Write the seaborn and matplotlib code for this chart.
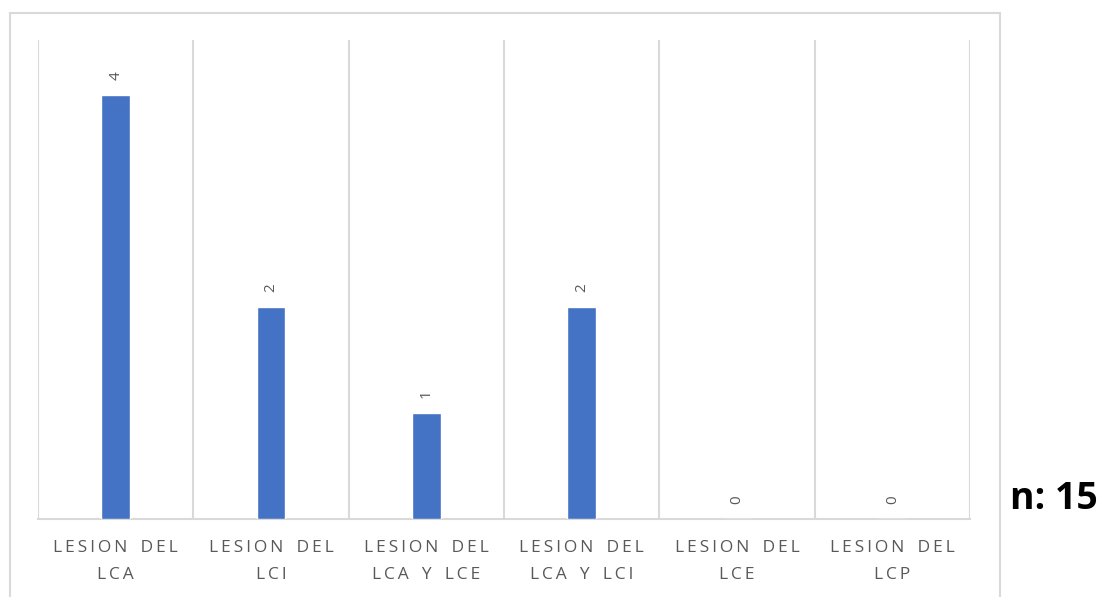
import matplotlib
matplotlib.use("Agg")
import matplotlib.pyplot as plt
import matplotlib.patches as mpatches
import seaborn as sns
import pandas as pd

# Injury categories and patient counts
categories = [
    "LESION DEL\nLCA",
    "LESION DEL\nLCI",
    "LESION DEL\nLCA Y LCE",
    "LESION DEL\nLCA Y LCI",
    "LESION DEL\nLCE",
    "LESION DEL\nLCP",
]
counts = [4, 2, 1, 2, 0, 0]
total_label = "n: 15"

df = pd.DataFrame({"categoria": categories, "casos": counts})

sns.set_theme(style="white")
plt.rcParams["font.family"] = ["Open Sans", "DejaVu Sans"]

W, H = 1111, 597
fig = plt.figure(figsize=(W / 100, H / 100), dpi=100)
ax = fig.add_axes([38 / W, 1 - 519 / H, (970 - 38) / W, (519 - 40) / H])

# Outer chart frame
frame = mpatches.Rectangle((9.5 / W, -0.05), (1000 - 9.5) / W, 1 - 12.5 / H + 0.05,
                           transform=fig.transFigure, fill=False,
                           edgecolor="#d9d9d9", linewidth=1.5, zorder=0)
fig.patches.append(frame)

sns.barplot(data=df, x="categoria", y="casos", color="#4472C4",
            width=0.185, saturation=1, ax=ax, zorder=3)

ax.set_ylim(0, 4.52)
ax.set_xlim(-0.5, len(categories) - 0.5)
ax.set_yticks([])
ax.set_xlabel("")
ax.set_ylabel("")

# Category separators
for xb in range(len(categories) + 1):
    ax.axvline(xb - 0.5, color="#d9d9d9", linewidth=1.5, zorder=1)

for side in ["top", "left", "right"]:
    ax.spines[side].set_visible(False)
ax.spines["bottom"].set_color("#d9d9d9")
ax.spines["bottom"].set_linewidth(1.5)

LETTER_GAP = "\u2009"
WORD_GAP = "\u2009 \u2009\u2009"


def spaced(s):
    # widen letter spacing of the category labels
    lines = []
    for line in s.split("\n"):
        words = [LETTER_GAP.join(list(w)) for w in line.split(" ")]
        lines.append(WORD_GAP.join(words))
    return "\n".join(lines)


ax.set_xticks(range(len(categories)))
ax.set_xticklabels([spaced(c) for c in categories], color="#595959",
                   fontsize=12.5, linespacing=1.95)
ax.tick_params(axis="x", length=0, pad=15)

# Value labels above each bar
for i, v in enumerate(counts):
    ax.annotate(str(v), (i, v), xytext=(0, 11), textcoords="offset points",
                ha="center", va="bottom", rotation=90, color="#595959",
                fontsize=11)

fig.text(1054 / W, 1 - 499 / H, total_label, ha="center", va="center",
         fontsize=27, fontweight="bold", color="black")

fig.savefig("out.png", dpi=100)
